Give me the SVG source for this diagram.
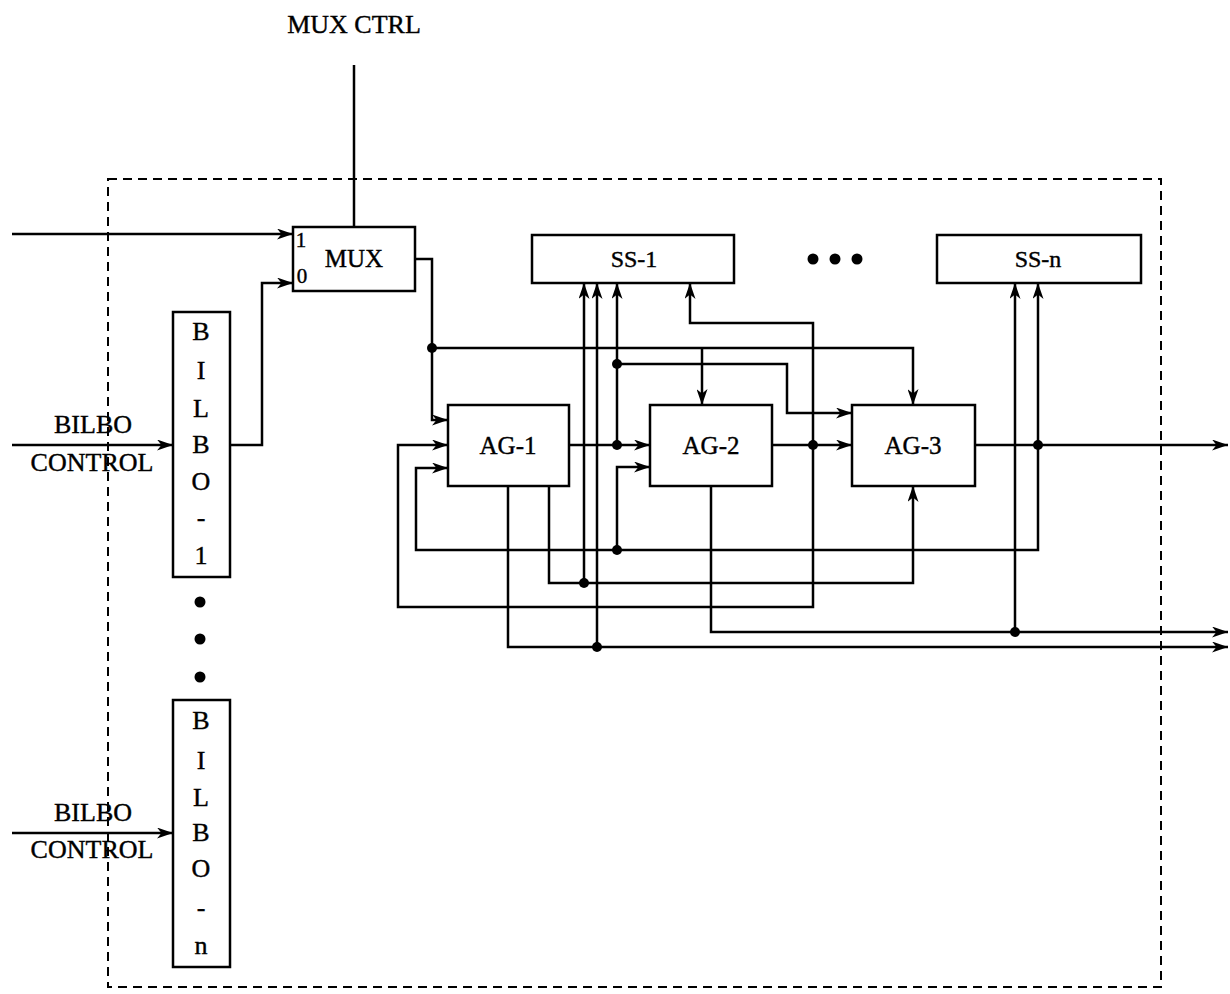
<svg xmlns="http://www.w3.org/2000/svg" width="1230" height="994" viewBox="0 0 1230 994">
<style>
.box{fill:#fff;stroke:#000;stroke-width:2.5}
.ln{fill:none;stroke:#000;stroke-width:2.5}
.arr{marker-end:url(#ah)}
.t{font-family:"Liberation Serif","Times New Roman",serif;fill:#000;stroke:#000;stroke-width:0.4;text-anchor:middle;dominant-baseline:central}
.big{font-size:25px}
.lab{font-size:26px}
.mid{font-size:24px}
.ag{font-size:25px}
.sm{font-size:21px}
.dot{fill:#000}
</style>
<defs>
<marker id="ah" markerUnits="userSpaceOnUse" markerWidth="17" markerHeight="11" refX="16" refY="5.5" orient="auto">
<path d="M0,0 L16,5.5 L0,11 L4.5,5.5 Z" fill="#000"/>
</marker>
</defs>
<rect id="frame" x="108" y="179" width="1053" height="808" fill="none" stroke="#000" stroke-width="2" stroke-dasharray="9,6"/>

<g id="connectors">
<path class="ln arr" d="M12,234 H293"/>
<path class="ln arr" d="M230,445 H262 V283 H293"/>
<path class="ln" d="M354,65 V227"/>
<path class="ln arr" d="M12,445 H173"/>
<path class="ln arr" d="M12,833 H173"/>
<path class="ln arr" d="M415,259 H432 V420 H448"/>
<path class="ln arr" d="M432,348 H913 V405"/>
<path class="ln arr" d="M702,348 V405"/>
<path class="ln arr" d="M569,445 H650"/>
<path class="ln arr" d="M617,445 V283"/>
<path class="ln arr" d="M617,364 H787 V413 H852"/>
<path class="ln arr" d="M772,445 H852"/>
<path class="ln arr" d="M813,445 V323 H690 V283"/>
<path class="ln arr" d="M813,445 V607 H398 V445 H448"/>
<path class="ln arr" d="M975,445 H1228"/>
<path class="ln arr" d="M1038,445 V283"/>
<path class="ln arr" d="M1038,445 V550 H416 V468 H448"/>
<path class="ln arr" d="M617,550 V467 H650"/>
<path class="ln arr" d="M549,486 V583 H913 V486"/>
<path class="ln arr" d="M584,583 V283"/>
<path class="ln arr" d="M508,486 V647 H1228"/>
<path class="ln arr" d="M597,647 V283"/>
<path class="ln arr" d="M711,486 V632 H1228"/>
<path class="ln arr" d="M1015,632 V283"/>
<circle class="dot" cx="432" cy="348" r="5"/>
<circle class="dot" cx="617" cy="445" r="5"/>
<circle class="dot" cx="617" cy="364" r="5"/>
<circle class="dot" cx="813" cy="445" r="5"/>
<circle class="dot" cx="1038" cy="445" r="5"/>
<circle class="dot" cx="617" cy="550" r="5"/>
<circle class="dot" cx="584" cy="583" r="5"/>
<circle class="dot" cx="597" cy="647" r="5"/>
<circle class="dot" cx="1015" cy="632" r="5"/>
</g>

<text class="t lab" x="354" y="24">MUX CTRL</text>
<text class="t lab" x="93" y="424">BILBO</text>
<text class="t lab" x="92" y="462">CONTROL</text>
<text class="t lab" x="93" y="812">BILBO</text>
<text class="t lab" x="92" y="849">CONTROL</text>

<g id="mux">
<rect class="box" x="293" y="227" width="122" height="64"/>
<text class="t big" x="354" y="258">MUX</text>
<text class="t sm" x="301" y="240">1</text>
<text class="t sm" x="302" y="276">0</text>
</g>

<g id="bilbo1">
<rect class="box" x="173" y="312" width="57" height="265"/>
<text class="t lab" x="201" y="331">B</text>
<text class="t lab" x="201" y="370">I</text>
<text class="t lab" x="201" y="408">L</text>
<text class="t lab" x="201" y="444">B</text>
<text class="t lab" x="201" y="481">O</text>
<text class="t lab" x="201" y="517">-</text>
<text class="t lab" x="201" y="555">1</text>
</g>

<g id="bilbo-dots">
<circle class="dot" cx="200" cy="602" r="5.5"/>
<circle class="dot" cx="200" cy="639" r="5.5"/>
<circle class="dot" cx="200" cy="677" r="5.5"/>
</g>

<g id="bilbon">
<rect class="box" x="173" y="700" width="57" height="267"/>
<text class="t lab" x="201" y="720">B</text>
<text class="t lab" x="201" y="760">I</text>
<text class="t lab" x="201" y="797">L</text>
<text class="t lab" x="201" y="832">B</text>
<text class="t lab" x="201" y="868">O</text>
<text class="t lab" x="201" y="907">-</text>
<text class="t lab" x="201" y="945">n</text>
</g>

<g id="ss1">
<rect class="box" x="532" y="235" width="202" height="48"/>
<text class="t mid" x="634" y="259">SS-1</text>
</g>

<g id="ss-dots">
<circle class="dot" cx="813" cy="259" r="5.5"/>
<circle class="dot" cx="835" cy="259" r="5.5"/>
<circle class="dot" cx="857" cy="259" r="5.5"/>
</g>

<g id="ssn">
<rect class="box" x="937" y="235" width="204" height="48"/>
<text class="t mid" x="1038" y="259">SS-n</text>
</g>

<g id="ag1">
<rect class="box" x="448" y="405" width="121" height="81"/>
<text class="t ag" x="508" y="445">AG-1</text>
</g>
<g id="ag2">
<rect class="box" x="650" y="405" width="122" height="81"/>
<text class="t ag" x="711" y="445">AG-2</text>
</g>
<g id="ag3">
<rect class="box" x="852" y="405" width="123" height="81"/>
<text class="t ag" x="913" y="445">AG-3</text>
</g>
</svg>
